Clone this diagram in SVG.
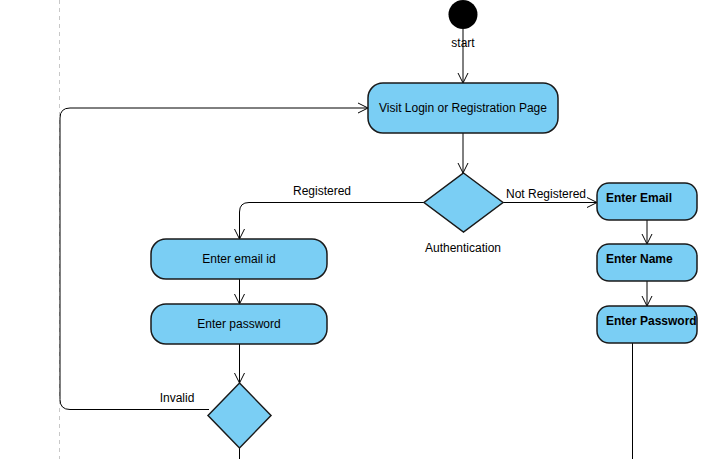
<svg xmlns="http://www.w3.org/2000/svg" width="709" height="459" viewBox="0 0 709 459">
<defs>
<style>
.node{fill:#7ACEF4;stroke:#1a1a1a;stroke-width:1.5}
.edge{fill:none;stroke:#000;stroke-width:1}
.t{font-family:"Liberation Sans",Arial,sans-serif;font-size:12px;fill:#000}
.b{font-weight:bold}
</style>
<marker id="arr" viewBox="0 0 12 12" refX="11" refY="6" markerWidth="12" markerHeight="12" markerUnits="userSpaceOnUse" orient="auto">
<path d="M1,1 L11,6 L1,11" fill="none" stroke="#000" stroke-width="1"/>
</marker>
</defs>
<rect width="709" height="459" fill="#fff"/>
<line x1="59.5" y1="0" x2="59.5" y2="459" stroke="#c8c8c8" stroke-width="1" stroke-dasharray="4,4"/>
<g id="connectors">
<path class="edge" d="M463,29 V83" marker-end="url(#arr)"/>
<path class="edge" d="M463,133 V173" marker-end="url(#arr)"/>
<path class="edge" d="M503,202.5 H597" marker-end="url(#arr)"/>
<path class="edge" d="M424,202.5 H249 Q239.5,202.5 239.5,212 V239" marker-end="url(#arr)"/>
<path class="edge" d="M239.5,279 V304" marker-end="url(#arr)"/>
<path class="edge" d="M239.5,344 V383" marker-end="url(#arr)"/>
<path class="edge" d="M239.5,448 V459"/>
<path class="edge" d="M209,409.5 H70 Q60,409.5 60,399.5 V118 Q60,108 70,108 H368" marker-end="url(#arr)"/>
<path class="edge" d="M647,220 V244" marker-end="url(#arr)"/>
<path class="edge" d="M647,281 V306" marker-end="url(#arr)"/>
<path class="edge" d="M632.5,343 V459"/>
<text class="t" x="463" y="47" text-anchor="middle">start</text>
<text class="t" x="322" y="195" text-anchor="middle">Registered</text>
<text class="t" x="546" y="198" text-anchor="middle">Not Registered</text>
<text class="t" x="177" y="402" text-anchor="middle">Invalid</text>
</g>
<g id="start"><circle cx="463" cy="14.5" r="14.5" fill="#000"/></g>
<g id="visit">
<rect class="node" x="368" y="83" width="190" height="50" rx="15"/>
<text class="t" x="463" y="112" text-anchor="middle">Visit Login or Registration Page</text>
</g>
<g id="auth">
<polygon class="node" points="463.5,173 503,202.5 463.5,232 424,202.5"/>
<text class="t" x="463" y="252" text-anchor="middle">Authentication</text>
</g>
<g id="email">
<rect class="node" x="597" y="183" width="100" height="37" rx="12"/>
<text class="t b" x="606" y="202">Enter Email</text>
</g>
<g id="name">
<rect class="node" x="597" y="244" width="100" height="37" rx="12"/>
<text class="t b" x="606" y="263">Enter Name</text>
</g>
<g id="password">
<rect class="node" x="597" y="306" width="100" height="37" rx="12"/>
<text class="t b" x="606" y="325">Enter Password</text>
</g>
<g id="emailid">
<rect class="node" x="151" y="239" width="176" height="40" rx="15"/>
<text class="t" x="239" y="263" text-anchor="middle">Enter email id</text>
</g>
<g id="pwd">
<rect class="node" x="151" y="304" width="176" height="40" rx="15"/>
<text class="t" x="239" y="328" text-anchor="middle">Enter password</text>
</g>
<g id="check">
<polygon class="node" points="239.5,383 271,415.5 239.5,448 208,415.5"/>
</g>
</svg>
